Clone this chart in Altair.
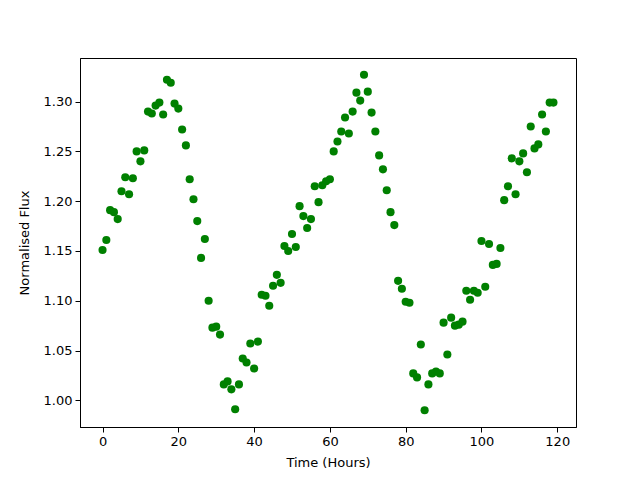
import altair as alt
import pandas as pd

hours = list(range(120))
flux = [
    1.151, 1.161, 1.191, 1.189, 1.182, 1.210, 1.224, 1.207, 1.223, 1.250,
    1.240, 1.251, 1.290, 1.288, 1.296, 1.299, 1.287, 1.322, 1.319, 1.298,
    1.293, 1.272, 1.256, 1.222, 1.202, 1.180, 1.143, 1.162, 1.100, 1.073,
    1.074, 1.066, 1.016, 1.019, 1.011, 0.991, 1.016, 1.042, 1.038, 1.057,
    1.032, 1.059, 1.106, 1.105, 1.095, 1.115, 1.126, 1.118, 1.155, 1.150,
    1.167, 1.154, 1.195, 1.185, 1.173, 1.182, 1.215, 1.199, 1.216, 1.220,
    1.222, 1.250, 1.260, 1.270, 1.284, 1.268, 1.290, 1.309, 1.301, 1.327,
    1.310, 1.289, 1.270, 1.246, 1.232, 1.211, 1.189, 1.176, 1.120, 1.112,
    1.099, 1.098, 1.027, 1.023, 1.056, 0.990, 1.016, 1.027, 1.029, 1.027,
    1.078, 1.046, 1.083, 1.075, 1.076, 1.079, 1.110, 1.101, 1.110, 1.108,
    1.160, 1.114, 1.157, 1.136, 1.137, 1.153, 1.201, 1.215, 1.243, 1.207,
    1.240, 1.248, 1.229, 1.275, 1.253, 1.257, 1.287, 1.270, 1.299, 1.299,
]
x_ticks = [0, 20, 40, 60, 80, 100, 120]
y_ticks = [1.00, 1.05, 1.10, 1.15, 1.20, 1.25, 1.30]

df = pd.DataFrame({"hours": hours, "flux": flux})

chart = alt.Chart(df).mark_circle(size=66, color="#008000", opacity=1).encode(
    x=alt.X("hours:Q",
            scale=alt.Scale(domain=[-5.95, 124.95], nice=False, zero=False),
            axis=alt.Axis(title="Time (Hours)", values=x_ticks, format="d",
                          grid=False, tickSize=5, tickColor="black",
                          domainColor="black", labelColor="black",
                          labelFontSize=13, titleFontSize=13,
                          titleFontWeight="normal", labelPadding=3,
                          titlePadding=8, labelFont="DejaVu Sans",
                          titleFont="DejaVu Sans", titleColor="black")),
    y=alt.Y("flux:Q",
            scale=alt.Scale(domain=[0.9732, 1.3438], nice=False, zero=False),
            axis=alt.Axis(title="Normalised Flux", values=y_ticks, format=".2f",
                          grid=False, tickSize=5, tickColor="black",
                          domainColor="black", labelColor="black",
                          labelFontSize=13, titleFontSize=13,
                          titleFontWeight="normal", labelPadding=3,
                          titlePadding=12, labelFont="DejaVu Sans",
                          titleFont="DejaVu Sans", titleColor="black")),
).properties(
    width=496, height=369,
    autosize=alt.AutoSizeParams(type="none"),
    padding={"left": 72, "top": 50, "right": 56, "bottom": 45},
).configure_view(stroke="black", strokeWidth=1)

chart.save("out.html", embed_options={"renderer": "svg", "actions": False})
